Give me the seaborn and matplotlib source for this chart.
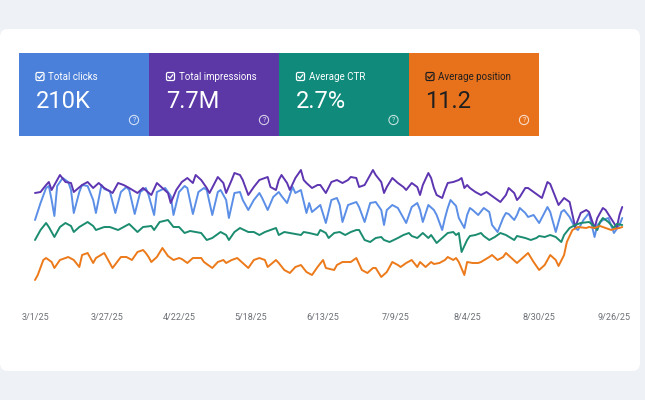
import matplotlib
matplotlib.use("Agg")
import matplotlib.pyplot as plt
from matplotlib.patches import FancyBboxPatch, Rectangle, Circle
import pandas as pd
import seaborn as sns

# ---------------- data ----------------
start = pd.Timestamp("2025-03-01")
metric_names = ["Total clicks", "Total impressions", "Average CTR", "Average position"]
metric_totals = ["210K", "7.7M", "2.7%", "11.2"]
tick_dates = ["2025-03-01", "2025-03-27", "2025-04-22", "2025-05-18", "2025-06-13",
              "2025-07-09", "2025-08-04", "2025-08-30", "2025-09-26"]
tick_labels = ["3/1/25", "3/27/25", "4/22/25", "5/18/25", "6/13/25",
               "7/9/25", "8/4/25", "8/30/25", "9/26/25"]

# relative heights (0-140); day offsets from 3/1/25
impr_days = [0,2,4,5,6,9,11,13,14,17,19,21,23,25,28,30,32,34,37,39,42,44,46,48,49,51,53,55,57,58,
             60,62,63,66,68,69,71,72,74,75,77,79,81,84,85,87,88,89,91,92,94,96,97,98,100,102,103,105,107,109,
             111,113,114,116,117,119,122,123,125,126,127,129,131,133,134,136,138,139,140,142,143,144,145,147,148,149,151,153,154,155,
             156,157,159,161,163,166,167,168,170,171,173,174,175,177,178,180,183,185,186,189,191,193,195,197,199,200,202,203,205,206,
             209,210,211,212]
impr_vals = [107,108,115,118,110,125,118,117,108,115,118,112,117,112,107,117,115,112,107,112,105,117,112,107,97,110,118,122,117,125,
             120,112,107,123,117,107,120,127,125,120,105,113,120,123,113,110,120,125,117,110,122,130,120,117,112,115,115,107,118,120,
             117,120,123,122,113,115,130,125,118,107,113,122,117,113,110,117,113,105,115,127,122,112,105,102,110,117,118,120,122,112,
             115,112,108,105,108,102,100,98,105,112,107,100,103,112,112,108,102,118,116,95,102,98,73,87,90,88,72,82,92,90,
             77,72,85,93]

clicks_days = [0,2,4,5,6,7,8,10,12,13,14,16,17,19,21,22,24,25,27,29,31,33,34,36,38,40,41,43,44,47,
               49,50,52,54,55,57,59,61,62,64,66,67,69,70,72,74,75,77,79,81,82,84,86,88,89,91,93,94,96,98,
               99,100,103,105,107,109,110,111,113,116,117,119,121,123,125,126,127,129,131,134,136,138,139,140,142,144,145,147,148,149,
               150,152,153,155,156,157,158,160,162,164,165,167,169,170,171,173,174,175,177,178,180,182,185,186,188,190,191,193,195,196,
               198,200,202,203,205,207,209,211,212]
clicks_vals = [80,97,112,114,100,84,114,122,118,110,87,108,115,114,100,87,115,111,109,87,108,113,110,86,108,112,105,85,108,112,
               104,85,108,114,112,86,108,112,110,85,108,110,100,82,107,108,100,90,100,107,102,90,103,108,104,97,113,107,110,87,
               97,88,95,77,100,102,95,78,95,98,93,78,97,98,90,75,90,95,92,77,93,97,90,78,95,90,85,70,82,92,
               100,94,82,72,85,92,90,85,92,88,75,68,82,87,86,80,85,92,87,83,85,77,93,88,68,88,90,83,72,70,
               80,87,63,75,80,82,67,75,82]

ctr_days = [0,2,4,5,7,9,11,13,14,16,19,21,22,25,27,30,32,34,37,39,42,43,45,48,50,52,54,56,60,62,
            64,67,69,70,72,74,77,79,81,83,85,87,88,90,92,96,97,99,102,103,105,106,108,110,112,114,116,117,119,121,
            123,125,126,128,131,133,135,136,138,140,142,143,145,147,149,151,152,153,154,156,157,159,161,162,164,166,168,170,173,174,
            177,179,181,182,184,186,188,190,191,193,195,197,200,201,203,204,205,207,209,210,212]
ctr_vals = [60,70,77,73,63,73,77,74,68,73,78,74,70,73,73,70,73,76,68,73,74,70,78,80,73,73,67,69,67,60,
            62,68,65,60,68,72,68,68,65,68,70,72,65,68,67,65,68,67,65,70,67,62,67,68,65,68,70,70,60,58,
            62,63,60,58,62,65,67,64,62,67,62,65,57,62,67,68,65,67,48,60,64,65,67,64,60,63,67,65,60,64,
            62,60,62,64,63,65,63,58,65,72,75,77,78,76,70,78,82,78,72,76,75]

pos_days = [0,1,3,4,6,7,9,12,14,16,17,19,21,22,25,26,28,31,33,35,37,39,40,41,42,44,46,48,50,52,
            53,55,57,60,61,64,66,68,69,71,73,75,77,79,81,83,84,87,88,90,92,94,96,98,100,102,104,105,108,109,
            111,114,116,118,120,122,123,125,127,129,131,132,134,136,138,139,141,143,144,146,148,149,151,152,153,155,156,158,160,161,
            164,165,167,169,170,172,174,176,178,180,182,184,186,188,189,191,192,194,196,199,200,202,204,206,208,209,211,212]
pos_vals = [20,25,40,42,38,32,40,43,40,33,45,47,37,42,47,42,32,43,43,40,48,50,47,43,38,43,52,44,40,42,
            41,37,42,42,38,32,38,40,37,40,42,37,32,40,42,40,33,40,37,30,27,33,35,28,25,33,40,32,30,35,
            38,38,42,30,27,32,32,23,28,38,35,33,37,40,33,38,33,38,36,37,40,43,40,42,38,25,38,37,37,38,
            43,45,40,43,47,42,37,42,47,38,30,35,45,40,34,45,58,70,73,72,73,72,74,72,70,71,72,73]

tile_colors = ["#4a80d9", "#5b38a6", "#0f8a7b", "#e8721c"]
line_colors = ["#5b8ee6", "#5e35b1", "#1b8c70", "#ec7a1a"]

# ---------------- frame ----------------
def frame(name, days, vals):
    return pd.DataFrame({"date": start + pd.to_timedelta(days, unit="D"),
                         "value": vals, "metric": name})

df = pd.concat([frame("Total clicks", clicks_days, clicks_vals),
                frame("Total impressions", impr_days, impr_vals),
                frame("Average CTR", ctr_days, ctr_vals),
                frame("Average position", pos_days, pos_vals)], ignore_index=True)

sns.set_style("white")
plt.rcParams["font.family"] = ["Roboto", "DejaVu Sans"]

fig = plt.figure(figsize=(6.45, 4.0), dpi=100)
fig.patch.set_facecolor("#eef1f6")

bg = fig.add_axes([0, 0, 1, 1])
bg.set_xlim(0, 645)
bg.set_ylim(400, 0)
bg.axis("off")
bg.add_patch(FancyBboxPatch((0, 29), 640, 342, boxstyle="round,pad=0,rounding_size=8",
                            fc="white", ec="none"))

tile_x = [18.5, 149, 279, 408.5]
tile_w = [130.5, 130, 129.5, 130.5]
for i in range(4):
    x0 = tile_x[i]
    bg.add_patch(Rectangle((x0, 53), tile_w[i], 83, fc=tile_colors[i], ec="none"))
    fg = "#1f1f1f" if i == 3 else "white"
    cx, cy = x0 + 21.5, 76.5
    bg.add_patch(FancyBboxPatch((cx - 4, cy - 4), 8, 8, boxstyle="round,pad=0,rounding_size=1.5",
                                fc="none", ec=fg, lw=0.9))
    bg.plot([cx - 2.3, cx - 0.6, cx + 2.4], [cy + 0.1, cy + 1.9, cy - 1.8], color=fg, lw=0.9,
            solid_capstyle="round")
    bg.text(x0 + 30, cy, metric_names[i], color=fg, fontsize=7, va="center", ha="left")
    bg.text(x0 + 17, 102, metric_totals[i], color=fg, fontsize=17, va="center", ha="left")
    qx = x0 + tile_w[i] - 15
    bg.add_patch(Circle((qx, 120), 4.6, fc="none", ec=(1, 1, 1, 0.75), lw=0.8))
    bg.text(qx, 120.3, "?", color=(1, 1, 1, 0.85), fontsize=5, va="center", ha="center")

# chart axes: x px 30..630, y px 160..300
ax = fig.add_axes([30 / 645, 1 - 300 / 400, 600 / 645, 140 / 400])
ax.patch.set_alpha(0)
sns.lineplot(data=df, x="date", y="value", hue="metric", palette=dict(zip(metric_names, line_colors)),
             hue_order=metric_names, legend=False, linewidth=1.4, ax=ax)
for ln in ax.get_lines():
    ln.set_solid_joinstyle("round")
    ln.set_solid_capstyle("round")
ax.set_ylim(0, 140)
ax.set_xlim(start - pd.Timedelta(hours=43.3), start + pd.Timedelta(days=214.8))
ax.set_xticks(pd.to_datetime(tick_dates))
ax.set_xticklabels(tick_labels)
ax.tick_params(axis="x", length=0, pad=9, labelsize=6.5, labelcolor="#6b6f75")
ax.set_yticks([])
ax.set_xlabel("")
ax.set_ylabel("")
for s in ax.spines.values():
    s.set_visible(False)

fig.savefig("out.png", dpi=100, facecolor=fig.get_facecolor())
